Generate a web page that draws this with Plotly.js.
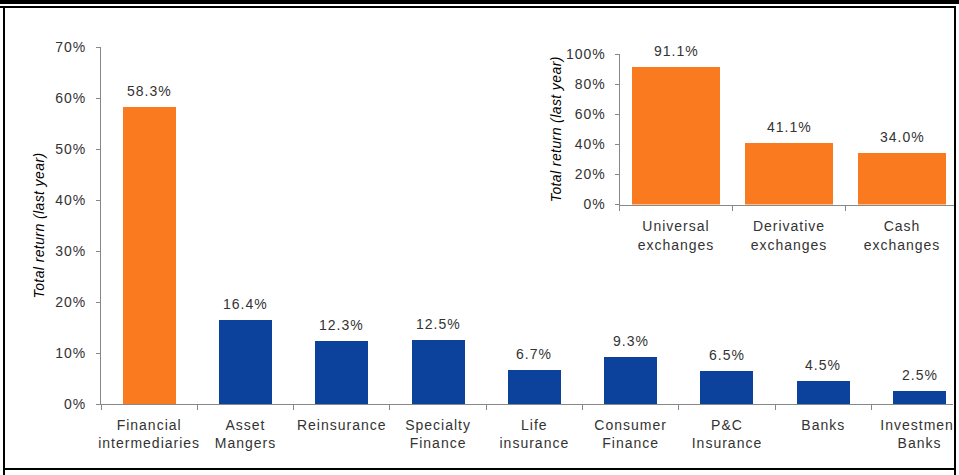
<!DOCTYPE html>
<html>
<head>
<meta charset="utf-8">
<script src="https://cdn.plot.ly/plotly-3.0.1.min.js"></script>
<style>
  html, body { margin: 0; padding: 0; background: #fff; }
  #chart { width: 959px; height: 475px; }
  .xtick text, .x2tick text, .ytick text, .y2tick text, .annotation-text { letter-spacing: 1px; }
  .g-ytitle text, .g-y2title text { letter-spacing: 0.4px; }
</style>
</head>
<body>
<div id="chart"></div>
<script>
// ---- Data ----
const mainCategories = ["Financial<br>intermediaries", "Asset<br>Mangers", "Reinsurance", "Specialty<br>Finance",
  "Life<br>insurance", "Consumer<br>Finance", "P&amp;C<br>Insurance", "Banks", "Investment<br>Banks"];
const mainValues = [58.3, 16.4, 12.3, 12.5, 6.7, 9.3, 6.5, 4.5, 2.5];

const insetCategories = ["Universal<br>exchanges", "Derivative<br>exchanges", "Cash<br>exchanges"];
const insetValues = [91.1, 41.1, 34.0];

const yTitle = "Total return (last year)";
const mainTicks = [0, 10, 20, 30, 40, 50, 60, 70];
const mainTickText = ["0%", "10%", "20%", "30%", "40%", "50%", "60%", "70%"];
const insetTicks = [0, 20, 40, 60, 80, 100];
const insetTickText = ["0%", "20%", "40%", "60%", "80%", "100%"];

// ---- Styles ----
const ORANGE = "#F97A1F";
const BLUE = "#0C429B";
const TEXT = "#333333";
const AXIS = "#888888";
const FONT = "Liberation Sans, Arial, sans-serif";
const W = 959, H = 475;
const px = v => v / W;
const py = v => 1 - v / H;

const mainColors = mainValues.map((v, i) => i === 0 ? ORANGE : BLUE);

const traces = [
  { type: "bar", x: mainCategories, y: mainValues, xaxis: "x", yaxis: "y",
    width: 0.55, marker: { color: mainColors, line: { width: 0 } }, hoverinfo: "skip" },
  { type: "bar", x: insetCategories, y: insetValues, xaxis: "x2", yaxis: "y2",
    width: 0.78, marker: { color: ORANGE, line: { width: 0 } }, hoverinfo: "skip" }
];

const lblFont = { family: FONT, size: 14, color: TEXT };
const annotations = [];
mainValues.forEach((v, i) => annotations.push({
  x: mainCategories[i], y: v, xref: "x", yref: "y", text: v.toFixed(1) + "%",
  showarrow: false, yanchor: "middle", yshift: 16, font: lblFont
}));
insetValues.forEach((v, i) => annotations.push({
  x: insetCategories[i], y: v, xref: "x2", yref: "y2", text: v.toFixed(1) + "%",
  showarrow: false, yanchor: "middle", yshift: 16, font: lblFont
}));

const axisCommon = {
  showline: true, linecolor: AXIS, linewidth: 1, showgrid: false, zeroline: false,
  ticks: "outside", tickcolor: AXIS, tickwidth: 1, tickfont: lblFont, fixedrange: true
};
const mainBand = 96.3, insetBand = 113;
const titleFont = { family: FONT, size: 14, color: "#000", style: "italic" };

const layout = {
  width: W, height: H,
  margin: { l: 0, r: 0, t: 0, b: 0 },
  paper_bgcolor: "#ffffff", plot_bgcolor: "rgba(0,0,0,0)",
  showlegend: false, bargap: 0,
  xaxis: Object.assign({}, axisCommon, {
    domain: [px(101), px(953)], type: "category",
    range: [-0.5, -0.5 + (953 - 101) / mainBand], tickangle: 0,
    tickson: "boundaries", ticklen: 5, ticklabelstandoff: 8, anchor: "y"
  }),
  yaxis: Object.assign({}, axisCommon, {
    domain: [1 - 404 / H, 1 - 47 / H], range: [0, 70],
    tickmode: "array", tickvals: mainTicks, ticktext: mainTickText, ticklen: 4, ticklabelstandoff: 7, anchor: "x",
    title: { text: yTitle, font: titleFont, standoff: 7 }
  }),
  xaxis2: Object.assign({}, axisCommon, {
    domain: [px(619.5), px(954)], type: "category",
    range: [-0.5, -0.5 + (954 - 619.5) / insetBand], tickangle: 0,
    tickson: "boundaries", ticklen: 5, ticklabelstandoff: 9, anchor: "y2"
  }),
  yaxis2: Object.assign({}, axisCommon, {
    domain: [1 - 204.5 / H, 1 - 54 / H], range: [0, 100],
    tickmode: "array", tickvals: insetTicks, ticktext: insetTickText, ticklen: 4, ticklabelstandoff: 6, anchor: "x2",
    title: { text: yTitle, font: titleFont, standoff: 0 }
  }),
  annotations: annotations,
  shapes: [
    { type: "rect", xref: "paper", yref: "paper", x0: px(954), x1: 1.01, y0: -0.01, y1: 1.01,
      fillcolor: "#fff", line: { width: 0 }, layer: "above" },
    { type: "rect", xref: "paper", yref: "paper", x0: 0, x1: 1, y0: py(4), y1: 1.01,
      fillcolor: "#000", line: { width: 0 }, layer: "above" },
    { type: "rect", xref: "paper", yref: "paper", x0: 0, x1: px(956), y0: py(8), y1: py(6),
      fillcolor: "#000", line: { width: 0 }, layer: "above" },
    { type: "rect", xref: "paper", yref: "paper", x0: px(3), x1: px(5), y0: -0.01, y1: py(6),
      fillcolor: "#000", line: { width: 0 }, layer: "above" },
    { type: "rect", xref: "paper", yref: "paper", x0: px(954), x1: px(956), y0: -0.01, y1: py(6),
      fillcolor: "#000", line: { width: 0 }, layer: "above" },
    { type: "rect", xref: "paper", yref: "paper", x0: px(3), x1: px(956), y0: py(470), y1: py(468),
      fillcolor: "#000", line: { width: 0 }, layer: "above" }
  ]
};

Plotly.newPlot("chart", traces, layout, { staticPlot: true, displayModeBar: false });
</script>
</body>
</html>
